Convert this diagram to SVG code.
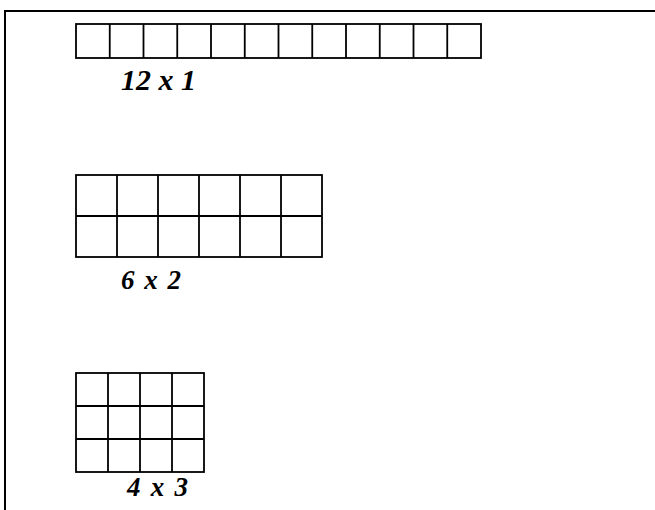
<svg xmlns="http://www.w3.org/2000/svg" width="655" height="510" viewBox="0 0 655 510">
<style>
.g{fill:none;stroke:#000;stroke-width:1.8}
.frame{fill:none;stroke:#000;stroke-width:2}
.lbl{font-family:"Liberation Serif","Times New Roman",serif;font-style:italic;font-weight:bold;fill:#000}
</style>
<rect width="655" height="510" fill="#fff"/>
<path class="frame" d="M5,510 V11 H655"/>
<g id="grid12x1">
<rect class="g" x="76" y="24" width="405" height="34"/>
<path class="g" d="M109.75,24V58M143.5,24V58M177.25,24V58M211,24V58M244.75,24V58M278.5,24V58M312.25,24V58M346,24V58M379.75,24V58M413.5,24V58M447.25,24V58"/>
<text class="lbl" x="121" y="90" font-size="30">12 x 1</text>
</g>
<g id="grid6x2">
<rect class="g" x="76" y="175" width="246" height="82"/>
<path class="g" d="M117,175V257M158,175V257M199,175V257M240,175V257M281,175V257M76,216H322"/>
<text class="lbl" x="121" y="289" font-size="27" word-spacing="3">6 x 2</text>
</g>
<g id="grid4x3">
<rect class="g" x="76" y="373" width="128" height="99"/>
<path class="g" d="M108,373V472M140,373V472M172,373V472M76,406H204M76,439H204"/>
<text class="lbl" x="127" y="496" font-size="27" word-spacing="3.5">4 x 3</text>
</g>
<g id="connectors"/>
</svg>
